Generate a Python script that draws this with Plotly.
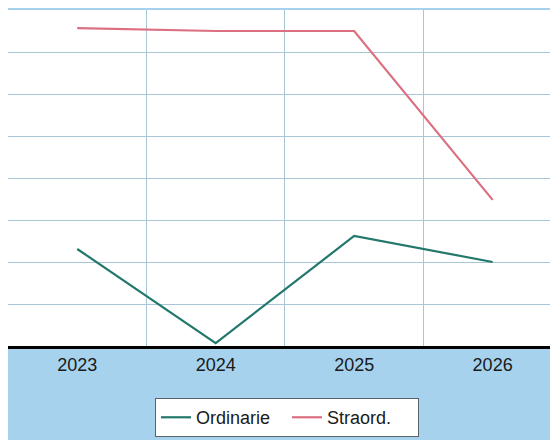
import plotly.graph_objects as go

years = [2023, 2024, 2025, 2026]
year_labels = ["2023", "2024", "2025", "2026"]
ordinarie = [2.31, 0.07, 2.62, 2.0]
straord = [7.57, 7.5, 7.5, 3.48]

fig = go.Figure()
fig.add_trace(go.Scatter(x=years, y=ordinarie, mode="lines", name="Ordinarie",
                         line=dict(color="#23786c", width=2.2)))
fig.add_trace(go.Scatter(x=years, y=straord, mode="lines", name="Straord.",
                         line=dict(color="#dc6f80", width=2.2)))

fig.update_layout(
    width=558, height=440,
    paper_bgcolor="#a6d2ee",
    plot_bgcolor="#ffffff",
    margin=dict(l=0, r=0, t=2, b=102),
    font=dict(family="Liberation Sans, Arial, sans-serif", size=18, color="#1a1a1a"),
    showlegend=True,
    legend=dict(orientation="h", x=0.5, xanchor="center", y=-0.155, yanchor="top",
                bgcolor="#ffffff", bordercolor="#5a6468", borderwidth=1,
                font=dict(size=18, color="#1a1a1a"), itemwidth=30,
                entrywidth=86, tracegroupgap=0),
    xaxis=dict(range=[2022.5, 2026.53], tickvals=years, ticktext=year_labels,
               showgrid=False, zeroline=False, showline=True, linecolor="#000000",
               linewidth=2.5, ticks="", ticklabelstandoff=1,
               tickfont=dict(size=18, color="#1a1a1a"),
               minor=dict(tickvals=[2023.5, 2024.5, 2025.5], showgrid=True,
                          gridcolor="#a9c6d6", gridwidth=1, ticks="")),
    yaxis=dict(range=[0, 8], dtick=1, showticklabels=False, showgrid=True,
               gridcolor="#a9c6d6", gridwidth=1, zeroline=False, ticks=""),
)

fig.write_html("out.html")
